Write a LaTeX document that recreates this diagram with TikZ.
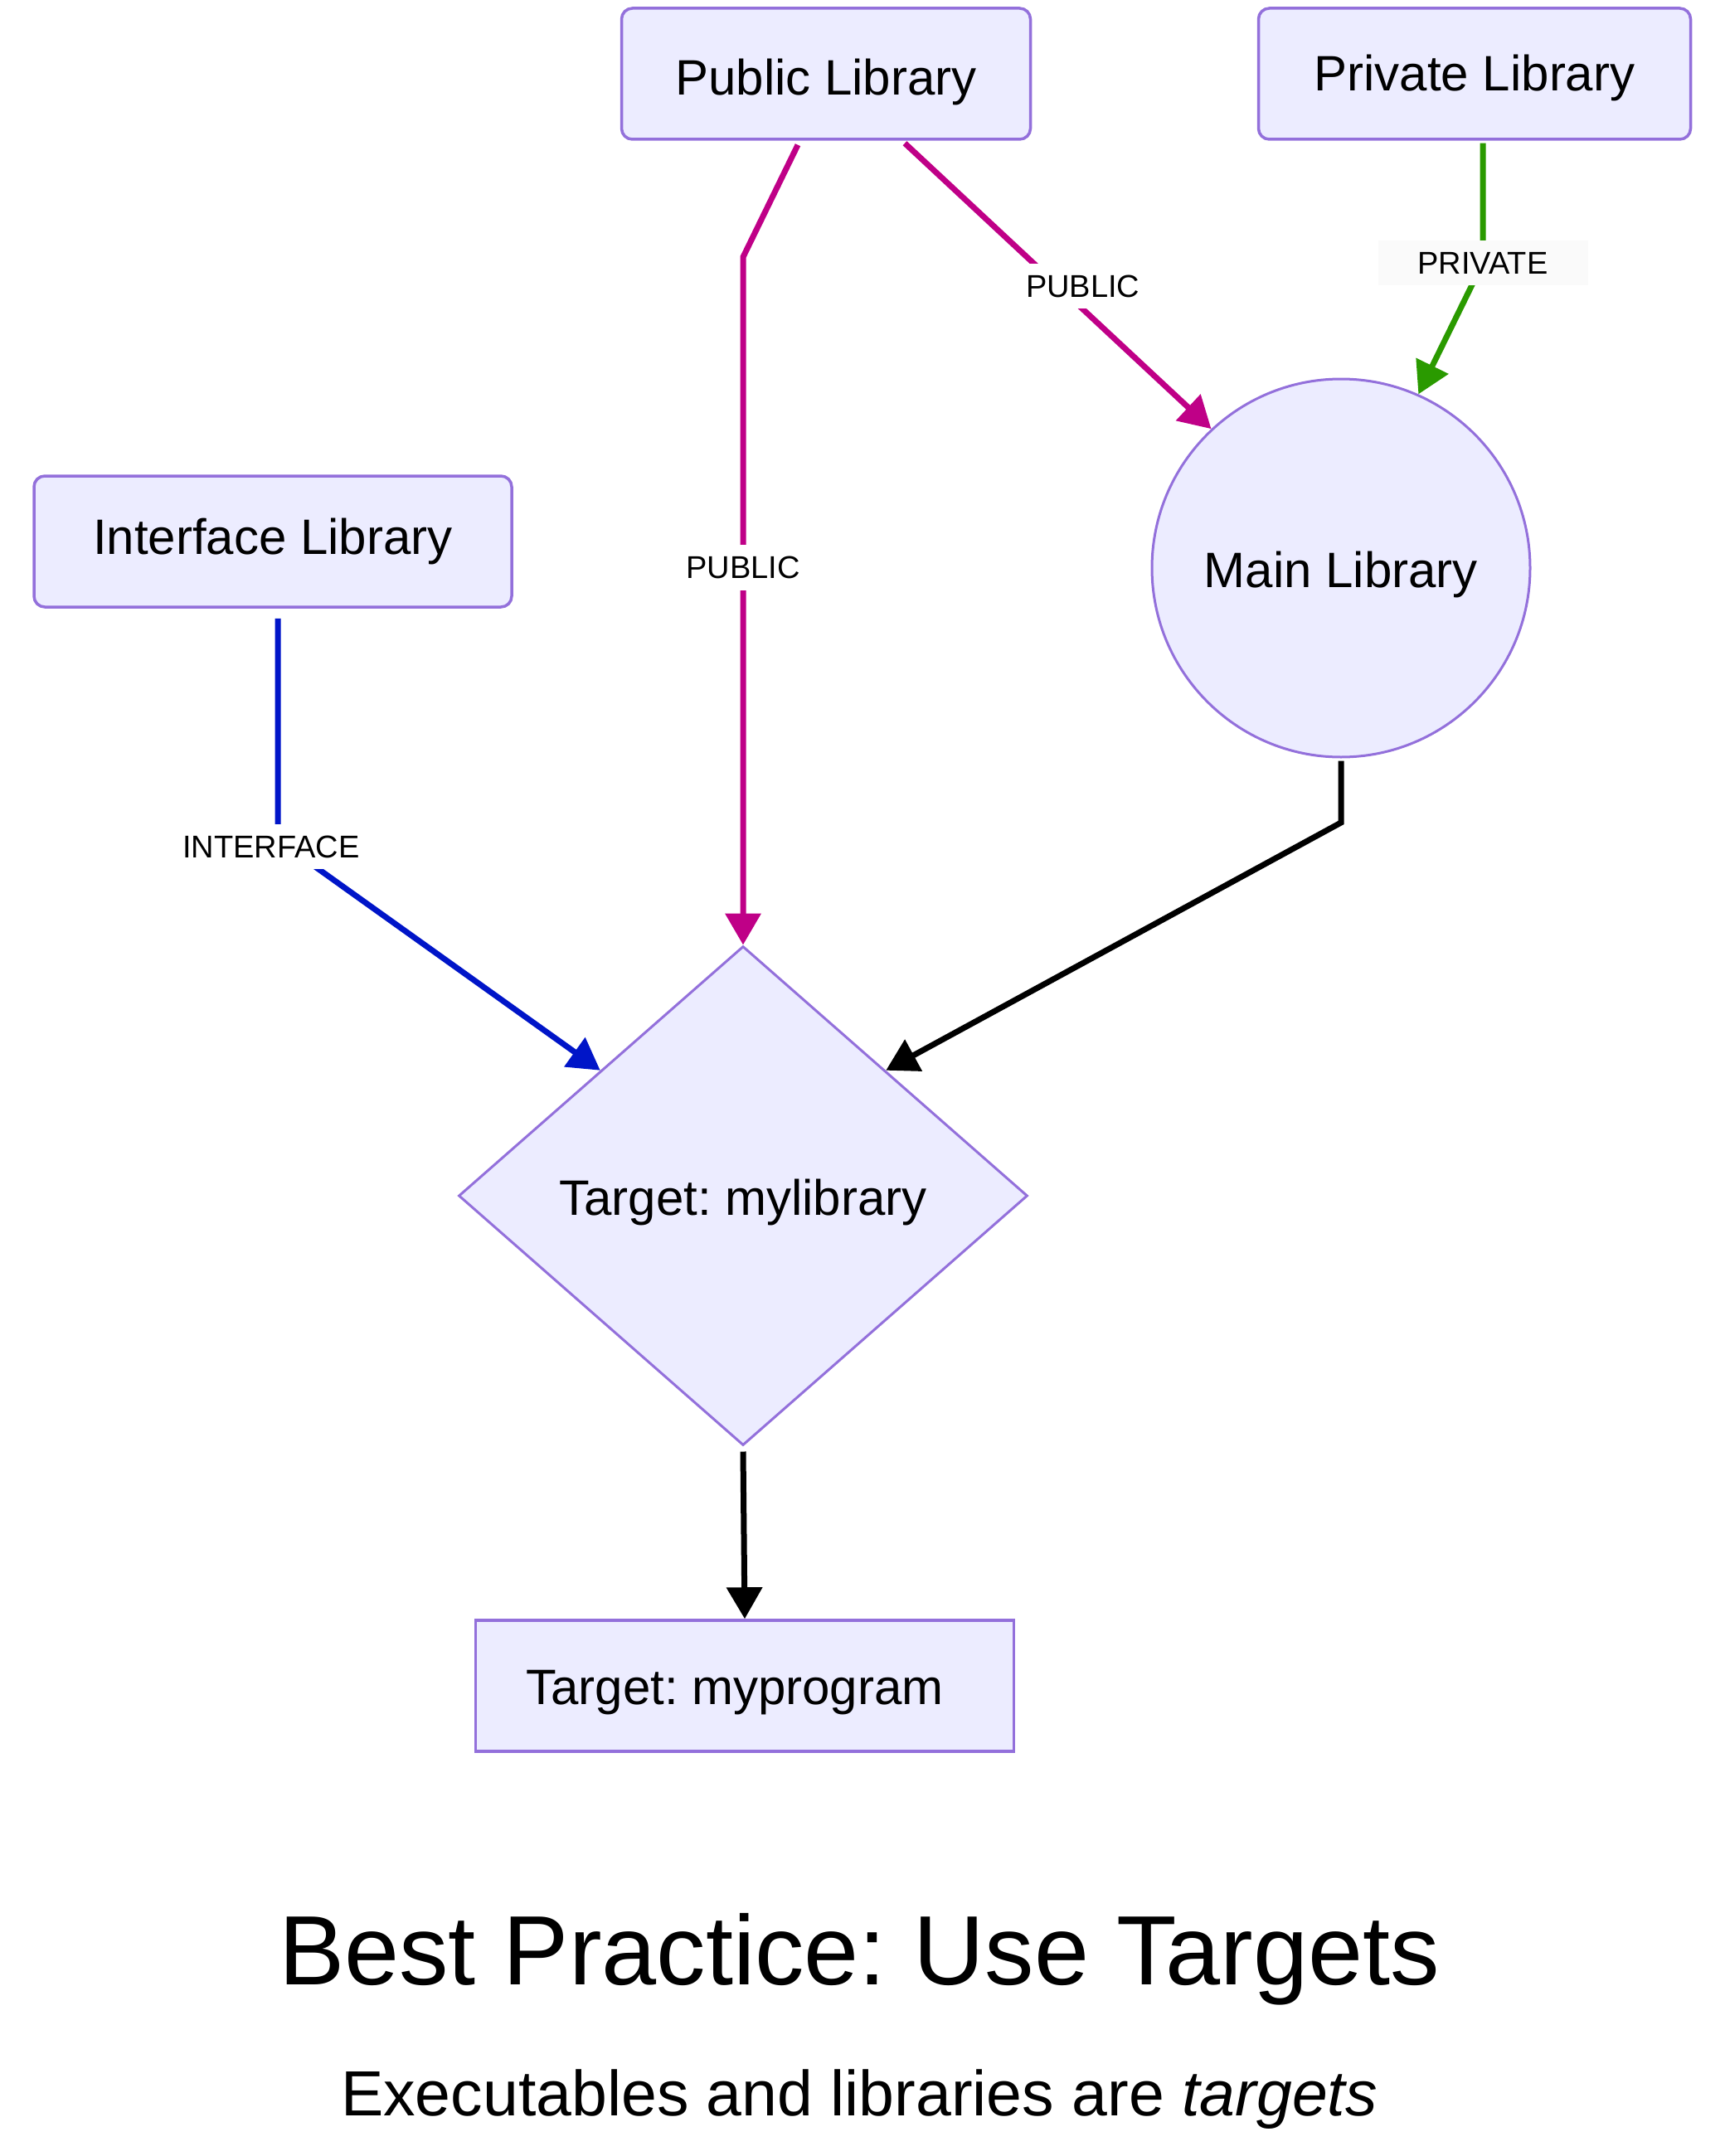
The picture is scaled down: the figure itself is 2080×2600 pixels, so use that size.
\documentclass[tikz,border=0pt]{standalone}
\usepackage{fontspec}
\setmainfont{Liberation Sans}
\usetikzlibrary{arrows.meta,shapes.geometric}
\frenchspacing
\definecolor{nodef}{HTML}{ECECFF}
\definecolor{nodeb}{HTML}{9370DB}
\definecolor{cpub}{HTML}{BF0087}
\definecolor{cpriv}{HTML}{2A9A00}
\definecolor{cint}{HTML}{0015C8}
\definecolor{lblbg}{HTML}{FAFAFA}
\newcommand{\lowertext}[2]{\raisebox{-#1}[\height][\depth]{#2}}
\begin{document}
\begin{tikzpicture}[x=0.5pt,y=-0.5pt,
  lib/.style={draw=nodeb, fill=nodef, line width=1.75pt, rounded corners=6.5pt,
    minimum height=79pt, inner sep=0pt, font=\fontsize{30}{36}\selectfont},
  plainbox/.style={draw=nodeb, fill=nodef, line width=1.75pt,
    minimum height=79pt, inner sep=0pt, font=\fontsize{30}{36}\selectfont},
  roundnode/.style={draw=nodeb, fill=nodef, line width=1.5pt, circle,
    minimum size=228pt, inner sep=0pt, font=\fontsize{30}{36}\selectfont},
  decide/.style={draw=nodeb, fill=nodef, line width=1.5pt, diamond,
    minimum width=343pt, minimum height=301pt, inner sep=0pt, font=\fontsize{30}{36}\selectfont},
  conn/.style={line width=3.5pt, -{Triangle[length=19pt,width=21pt]}},
  lbl/.style={fill=white, text=black, font=\fontsize{19}{23}\selectfont, inner xsep=3pt, inner ysep=7pt},
  title/.style={anchor=base, font=\fontsize{59.4}{71}\selectfont},
  subtitle/.style={anchor=base, font=\fontsize{38.5}{46}\selectfont}
]
\useasboundingbox (0,0) rectangle (2080,2600);

% nodes
\node[lib, minimum width=246.5pt] (pub) at (996,89) {\lowertext{5pt}{Public Library}};
\node[lib, minimum width=260.5pt] (priv) at (1778,89) {\lowertext{2.5pt}{Private Library}};
\node[lib, minimum width=288pt] (iface) at (329,653) {Interface Library};
\node[roundnode] (main) at (1617,685) {\lowertext{4pt}{Main Library}};
\node[decide] (dia) at (896,1442) {\lowertext{4pt}{Target: mylibrary}};
\node[plainbox, minimum width=324.5pt] (prog) at (898,2033) {\lowertext{4pt}{Target: myprogram\hspace*{12pt}}};

% bend points
\coordinate (b1) at (896,310);
\coordinate (b2) at (1788,317);
\coordinate (b3) at (335,1013);
\coordinate (b4) at (1617,992);

% connectors
\draw[conn, cpub] ([xshift=-17pt,yshift=-2.5pt]pub.south) -- (b1)
  -- node[lbl, pos=0.451] {PUBLIC} (dia.north);
\draw[conn, cpub] ([xshift=47.5pt,yshift=-1.5pt]pub.south)
  -- node[lbl, pos=0.5, xshift=15pt] {PUBLIC} (main.133);
\draw[conn, cpriv] ([xshift=5pt,yshift=-1.5pt]priv.south)
  -- node[lbl, fill=lblbg, inner xsep=24pt, pos=1] {PRIVATE} (b2) -- (main.66);
\draw[conn, cint] ([xshift=3pt,yshift=-6pt]iface.south)
  -- node[lbl, pos=1, xshift=-4pt, yshift=-4pt] {INTERFACE} (b3) -- (dia.north west);
\draw[conn, black] ([yshift=-1.5pt]main.south) -- (b4) -- (dia.north east);
\draw[conn, black] ([yshift=-3pt]dia.south) -- (prog.north);

% titles
\node[title] (ttl) at (1036,2393) {Best Practice: Use Targets};
\node[subtitle] (sub) at (1036,2551) {Executables and libraries are \textit{targets}};
\end{tikzpicture}
\end{document}
